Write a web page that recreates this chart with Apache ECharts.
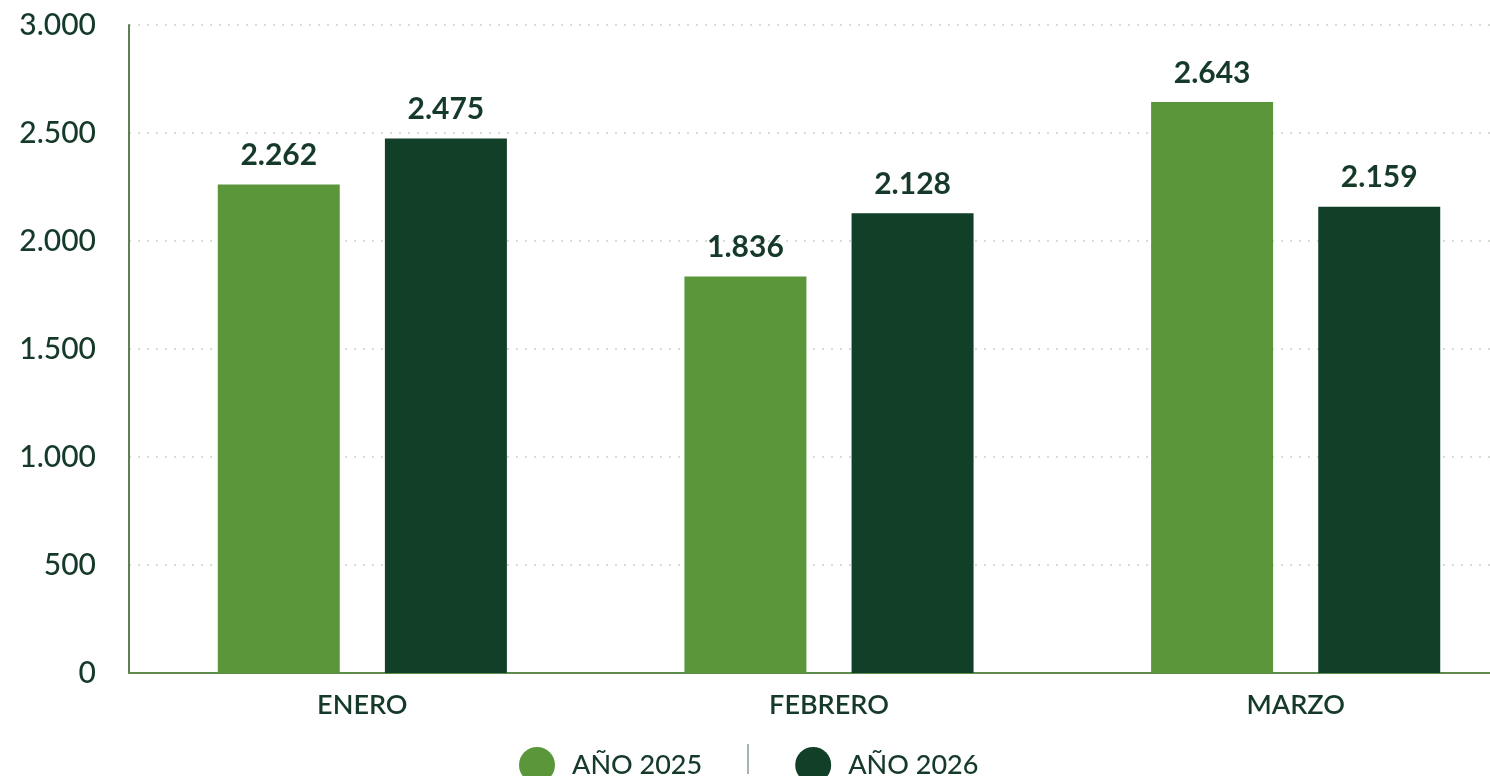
<!DOCTYPE html>
<html>
<head>
<meta charset="utf-8">
<style>
  html, body { margin: 0; padding: 0; background: #fff; overflow: hidden; }
  #chart { width: 1529px; height: 776px; }
</style>
<script src="https://cdn.jsdelivr.net/npm/echarts@6/dist/echarts.min.js"></script>
</head>
<body>
<div id="chart"></div>
<script>
  var categories = ['ENERO', 'FEBRERO', 'MARZO']
  var values2025 = [2262, 1836, 2643]
  var values2026 = [2475, 2128, 2159]
  var seriesNames = ['AÑO 2025', 'AÑO 2026']

  var lightGreen = '#5b963a'
  var darkGreen = '#123f28'
  var textColor = '#163a29'

  function fmt(v) {
    return String(v).replace(/\B(?=(\d{3})+(?!\d))/g, '.')
  }

  var chart = echarts.init(document.getElementById('chart'))

  var labelStyle = {
    show: true,
    position: 'top',
    distance: 14,
    fontFamily: 'Lato',
    fontWeight: 'bold',
    fontSize: 30,
    color: textColor,
    formatter: function (p) { return fmt(p.value) }
  }

  chart.setOption({
    backgroundColor: '#ffffff',
    animation: false,
    grid: {
      left: 129,
      top: 25,
      right: 0,
      bottom: 103,
      containLabel: false
    },
    legend: {
      data: seriesNames,
      left: 514,
      top: 742,
      icon: 'circle',
      itemWidth: 36,
      itemHeight: 36,
      itemGap: 93,
      textStyle: {
        fontFamily: 'Lato',
        fontWeight: 500,
        fontSize: 27,
        color: textColor,
        padding: [0, 0, 0, 12]
      }
    },
    graphic: [{
      type: 'line',
      shape: { x1: 748, y1: 744, x2: 748, y2: 774 },
      style: { stroke: '#8a9a88', lineWidth: 1.5 }
    }],
    xAxis: {
      type: 'category',
      data: categories,
      axisLine: { lineStyle: { color: '#5e8a4c', width: 2 } },
      axisTick: { show: false },
      axisLabel: {
        margin: 19,
        fontFamily: 'Lato',
        fontWeight: 600,
        fontSize: 27,
        color: textColor
      }
    },
    yAxis: {
      type: 'value',
      min: 0,
      max: 3000,
      interval: 500,
      axisLine: { show: true, lineStyle: { color: '#5e7f55', width: 2 } },
      axisTick: { show: false },
      axisLabel: {
        margin: 33,
        fontFamily: 'Lato',
        fontWeight: 500,
        fontSize: 30,
        color: textColor,
        formatter: function (v) { return fmt(v) }
      },
      splitLine: {
        lineStyle: { color: '#c9cfc9', type: [2, 7], width: 1.5 }
      }
    },
    series: [
      {
        name: seriesNames[0],
        type: 'bar',
        data: values2025,
        barWidth: 122,
        barGap: '37%',
        itemStyle: { color: lightGreen },
        label: labelStyle
      },
      {
        name: seriesNames[1],
        type: 'bar',
        data: values2026,
        barWidth: 122,
        itemStyle: { color: darkGreen },
        label: labelStyle
      }
    ]
  })
</script>
</body>
</html>
